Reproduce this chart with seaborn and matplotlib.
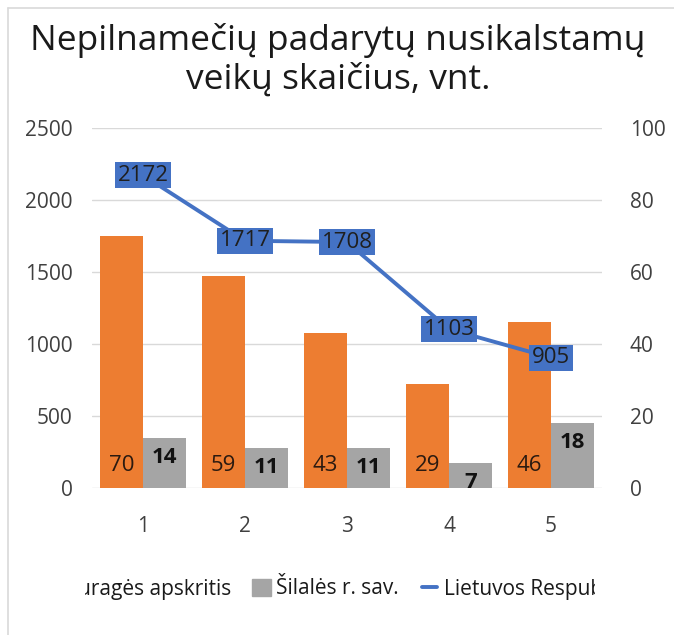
import matplotlib
matplotlib.use("Agg")
import matplotlib.pyplot as plt
import matplotlib.lines as mlines
import matplotlib.patches as mpatches
from matplotlib.legend_handler import HandlerLine2D
import seaborn as sns
import pandas as pd

categories = ["1", "2", "3", "4", "5"]
taurages = [70, 59, 43, 29, 46]
silales = [14, 11, 11, 7, 18]
lietuvos = [2172, 1717, 1708, 1103, 905]
series_names = ["Tauragės apskritis", "Šilalės r. sav.", "Lietuvos Respublika"]
left_ticks = [0, 500, 1000, 1500, 2000, 2500]
right_ticks = [0, 20, 40, 60, 80, 100]
title = "Nepilnamečių padarytų nusikalstamų\nveikų skaičius, vnt."

ORANGE = "#ED7D31"
GRAY = "#A5A5A5"
BLUE = "#4472C4"
TXT = "#404040"

sns.set_theme(style="white")
plt.rcParams["font.family"] = ["Open Sans", "DejaVu Sans"]

W, H = 674, 635
fig = plt.figure(figsize=(W / 100, H / 100), dpi=100)
ax = fig.add_axes([92 / W, (H - 488) / H, 510 / W, 360 / H])
ax2 = ax.twinx()

bars = pd.DataFrame({
    "cat": categories * 2,
    "val": taurages + silales,
    "series": [series_names[0]] * 5 + [series_names[1]] * 5,
})
line = pd.DataFrame({"cat": categories, "val": lietuvos})

sns.barplot(data=bars, x="cat", y="val", hue="series", ax=ax2,
            palette=[ORANGE, GRAY], width=0.84, saturation=1, legend=False,
            errorbar=None, zorder=2, linewidth=0, edgecolor="none")
sns.lineplot(data=line, x="cat", y="val", ax=ax, color=BLUE, lw=2.8,
             sort=False, zorder=3)

ax.set_zorder(ax2.get_zorder() + 1)
ax.patch.set_visible(False)

ax.set_xlim(-0.5, 4.5)
ax.set_ylim(0, 2500)
ax2.set_ylim(0, 100)
ax.set_yticks(left_ticks)
ax2.set_yticks(right_ticks)
ax2.yaxis.grid(True, color="#D9D9D9", lw=1)
ax2.set_axisbelow(True)
ax.yaxis.grid(False)
for a in (ax, ax2):
    for s in a.spines.values():
        s.set_visible(False)
    a.set_xlabel("")
    a.set_ylabel("")
ax.tick_params(axis="y", length=0, pad=14, labelsize=15, labelcolor=TXT)
ax2.tick_params(axis="y", length=0, pad=20, labelsize=15, labelcolor=TXT)
ax.tick_params(axis="x", length=0, pad=20, labelsize=15, labelcolor=TXT)
ax2.tick_params(axis="x", length=0)

# line labels
for i, v in enumerate(lietuvos):
    ax.annotate(str(v), (i, v), ha="center", va="center", fontsize=16,
                color="#1F1F1F", zorder=5,
                bbox=dict(boxstyle="square,pad=0.12", fc=BLUE, ec="none"))

# bar labels
cont_o, cont_g = ax2.containers[0], ax2.containers[1]
for rect, v in zip(cont_o, taurages):
    x = rect.get_x() + rect.get_width() / 2
    ax2.annotate(str(v), (x, 0), xytext=(0, 16.5), textcoords="offset points",
                 ha="center", va="center", fontsize=16, color="#2B1A10")
for rect, v in zip(cont_g, silales):
    x = rect.get_x() + rect.get_width() / 2
    ax2.annotate(str(v), (x, rect.get_height()), xytext=(0, -14),
                 textcoords="offset points", ha="center", va="center",
                 fontsize=16, fontweight="bold", color="#111111")

fig.text(338 / W, 1 - 60 / H, title, ha="center", va="center", fontsize=25.5,
         color="#1A1A1A", linespacing=1.18)


class ShortLine(HandlerLine2D):
    def get_xdata(self, legend, xdescent, ydescent, width, height, fontsize):
        c = -xdescent + width / 2
        return [c - 5.5, c + 5.5], [c - 5.5, c + 5.5]


# legend (clipped at both sides like the reference)
line_handle = mlines.Line2D([], [], color=BLUE, lw=2.8)
handles = [mpatches.Patch(color=ORANGE), mpatches.Patch(color=GRAY), line_handle]
leg = fig.legend(handles, series_names, loc="center left",
                 bbox_to_anchor=(23 / W, 1 - 589 / H), ncol=3, frameon=False,
                 fontsize=15, handlelength=0.9, handleheight=0.9,
                 handletextpad=0.25, columnspacing=1.0, labelcolor="#1A1A1A",
                 borderpad=0.4, borderaxespad=0,
                 handler_map={line_handle: ShortLine()})
leg.set_zorder(5)
for x0, x1 in ((10, 85), (595, W)):
    fig.add_artist(mpatches.Rectangle((x0 / W, 1 - 610 / H), (x1 - x0) / W, 40 / H,
                                      transform=fig.transFigure, fc="white",
                                      ec="none", zorder=20))

# chart border
fig.add_artist(mlines.Line2D([8 / W, 8 / W], [0, 1 - 8 / H], color="#D9D9D9", lw=1.2, zorder=30))
fig.add_artist(mlines.Line2D([8 / W, 1], [1 - 8 / H, 1 - 8 / H], color="#D9D9D9", lw=1.2, zorder=30))

fig.savefig("out.png", dpi=100)
